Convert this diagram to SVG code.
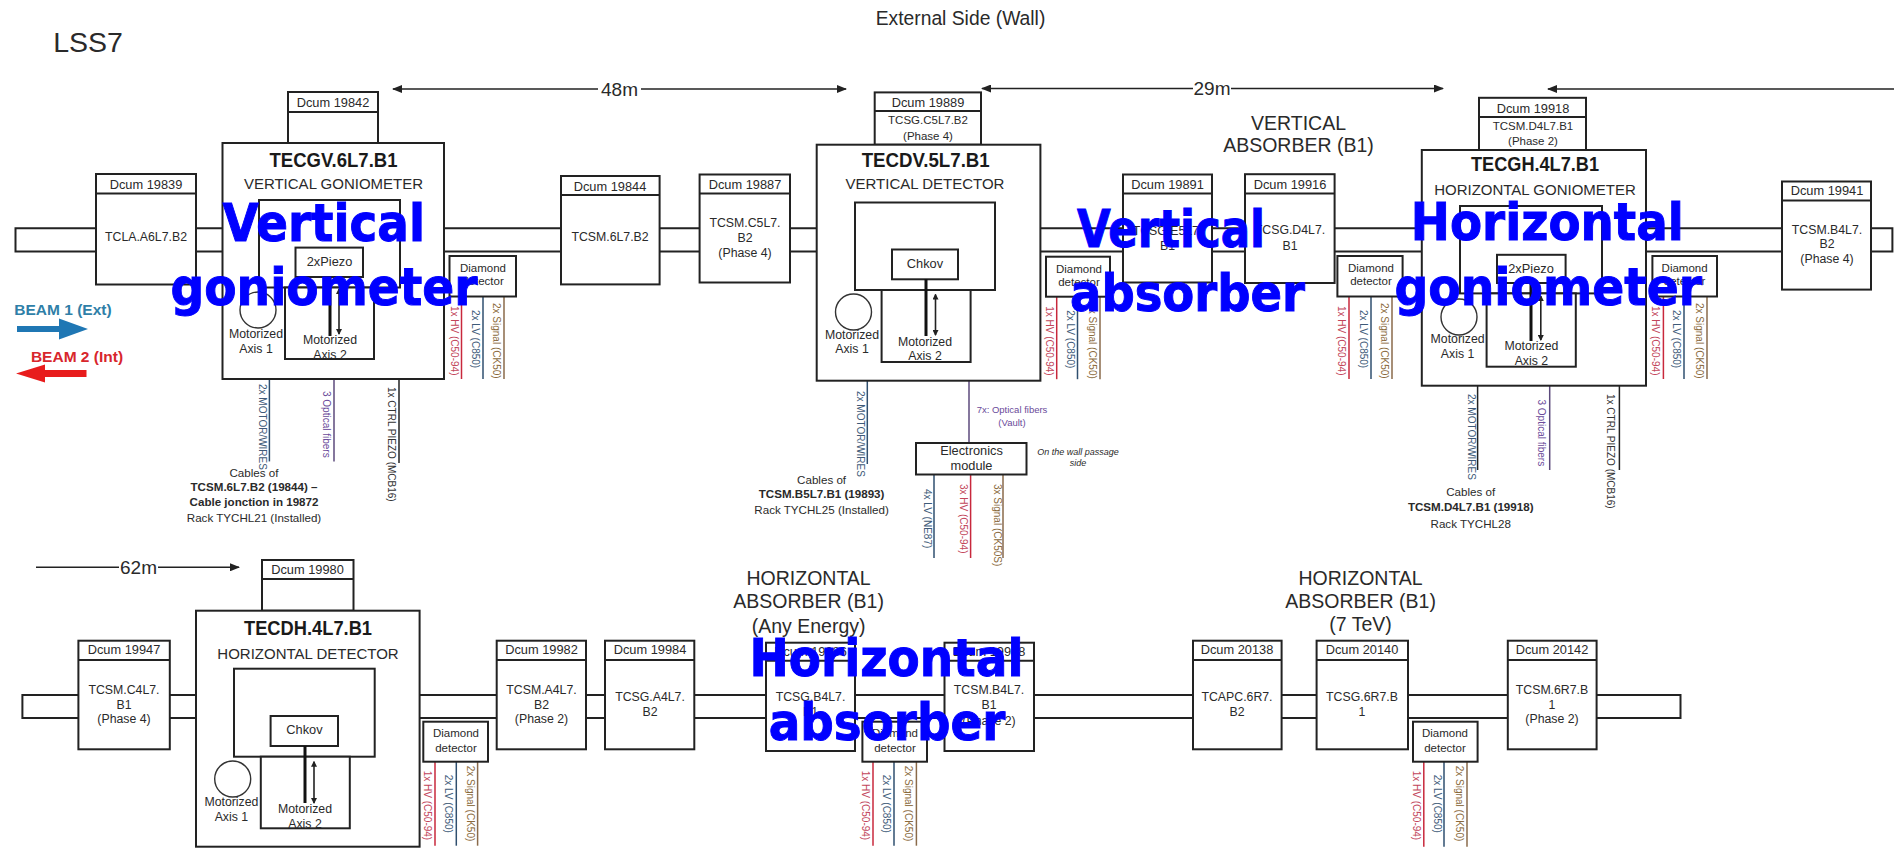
<svg xmlns="http://www.w3.org/2000/svg" width="1899" height="848" viewBox="0 0 1899 848">
<style>
text{font-family:"Liberation Sans",Arial,sans-serif;fill:#2a2a2a;text-anchor:middle}
.b{fill:#fff;stroke:#222;stroke-width:2}
.l{fill:none;stroke:#222;stroke-width:2}
.dim{fill:none;stroke:#222;stroke-width:1.6}
.dc{font-size:12.8px}
.lb{font-size:12.3px}
.dd{font-size:11.5px}
.mo{font-size:12.3px}
.ti{font-size:20px;font-weight:bold;fill:#1a1a1a}
.su{font-size:15px}
.h{font-size:19.5px}
.ca{font-size:11.6px}
.m{font-size:19px}
.v{font-size:10px;text-anchor:start}
.hv{fill:#c2455a}.lv{fill:#3e5a78}.sg{fill:#8a6a3c}.pu{fill:#6a4a9a}.bk{fill:#333}
.chv{stroke:#c8283c;stroke-width:1.5;fill:none}
.clv{stroke:#2f4f6f;stroke-width:1.5;fill:none}
.csg{stroke:#8a6a4a;stroke-width:1.5;fill:none}
.cpu{stroke:#5c4a7c;stroke-width:1.5;fill:none}
.cbk{stroke:#222;stroke-width:1.5;fill:none}
.big{font-family:"DejaVu Sans",Verdana,sans-serif;font-weight:bold;font-size:52px;fill:#0000ff;stroke:#0000ff;stroke-width:1}
</style>
<defs>
<marker id="ah" markerWidth="10" markerHeight="8" refX="9" refY="4" orient="auto-start-reverse" markerUnits="userSpaceOnUse"><path d="M0 0L10 4L0 8Z" fill="#222"/></marker>
<marker id="ta" markerWidth="6" markerHeight="6" refX="5" refY="3" orient="auto-start-reverse" markerUnits="userSpaceOnUse"><path d="M0 0L6 3L0 6Z" fill="#222"/></marker>
</defs>
<rect width="1899" height="848" fill="#fff"/>
<text x="88" y="51.6" style="font-size:28.5px" fill="#333">LSS7</text>
<text x="960.5" y="24.7" style="font-size:19.3px">External Side (Wall)</text>
<g id="connectors">
<path class="l" d="M1892.4 228.3H15.5V251.4H1892.4Z"/>
<path class="l" d="M1680.5 695H22.4V718H1680.5Z"/>
<path class="dim" marker-start="url(#ah)" d="M393 89H598"/><path class="dim" marker-end="url(#ah)" d="M641 89H846"/>
<path class="dim" marker-start="url(#ah)" d="M982 88.5H1193"/><path class="dim" marker-end="url(#ah)" d="M1231 88.5H1443"/>
<path class="dim" marker-start="url(#ah)" d="M1548 89H1894"/>
<path class="dim" d="M36 567.3H119"/><path class="dim" marker-end="url(#ah)" d="M158 567.3H239"/>
<g id="cables-d1" transform="translate(449.5 296.5)"><path class="chv" d="M12 0V82.5"/><path class="clv" d="M33.5 0V82.5"/><path class="csg" d="M54.5 0V82.5"/><text class="v hv" transform="translate(1.5 9.5) rotate(90)">1x HV (C50-94)</text><text class="v lv" transform="translate(22.5 13.5) rotate(90)">2x LV (C850)</text><text class="v sg" transform="translate(43.5 6.5) rotate(90)">2x Signal (CK50)</text></g>
<g id="cables-d2" transform="translate(1046 296.7)"><path class="chv" d="M10.7 0V82.5"/><path class="clv" d="M31.5 0V82.5"/><path class="csg" d="M54 0V82.5"/><text class="v hv" transform="translate(0 9.5) rotate(90)">1x HV (C50-94)</text><text class="v lv" transform="translate(20.5 13.5) rotate(90)">2x LV (C850)</text><text class="v sg" transform="translate(43 6.5) rotate(90)">2x Signal (CK50)</text></g>
<g id="cables-d3" transform="translate(1337.4 296.5)"><path class="chv" d="M11.6 0V82.5"/><path class="clv" d="M33.6 0V82.5"/><path class="csg" d="M54.6 0V82.5"/><text class="v hv" transform="translate(0.5 9.5) rotate(90)">1x HV (C50-94)</text><text class="v lv" transform="translate(22.5 13.5) rotate(90)">2x LV (C850)</text><text class="v sg" transform="translate(43.5 6.5) rotate(90)">2x Signal (CK50)</text></g>
<g id="cables-d4" transform="translate(1652.4 296.5)"><path class="chv" d="M11 0V82.5"/><path class="clv" d="M31.6 0V82.5"/><path class="csg" d="M54.6 0V82.5"/><text class="v hv" transform="translate(0 9.5) rotate(90)">1x HV (C50-94)</text><text class="v lv" transform="translate(20.5 13.5) rotate(90)">2x LV (C850)</text><text class="v sg" transform="translate(43.5 6.5) rotate(90)">2x Signal (CK50)</text></g>
<g id="cables-d5" transform="translate(423.3 761.7)"><path class="chv" d="M11.7 0V84"/><path class="clv" d="M33 0V84"/><path class="csg" d="M54.3 0V84"/><text class="v hv" transform="translate(0.5 9) rotate(90)">1x HV (C50-94)</text><text class="v lv" transform="translate(22 13) rotate(90)">2x LV (C850)</text><text class="v sg" transform="translate(43.5 4) rotate(90)">2x Signal (CK50)</text></g>
<g id="cables-d6" transform="translate(862.4 761.7)"><path class="chv" d="M10.6 0V84"/><path class="clv" d="M31.6 0V84"/><path class="csg" d="M54 0V84"/><text class="v hv" transform="translate(0 9) rotate(90)">1x HV (C50-94)</text><text class="v lv" transform="translate(20.5 13) rotate(90)">2x LV (C850)</text><text class="v sg" transform="translate(43 4) rotate(90)">2x Signal (CK50)</text></g>
<g id="cables-d7" transform="translate(1413 761.7)"><path class="chv" d="M10.8 0V85"/><path class="clv" d="M31 0V85"/><path class="csg" d="M54 0V85"/><text class="v hv" transform="translate(0 9) rotate(90)">1x HV (C50-94)</text><text class="v lv" transform="translate(20.5 13) rotate(90)">2x LV (C850)</text><text class="v sg" transform="translate(43 4) rotate(90)">2x Signal (CK50)</text></g>
<path class="clv" d="M269.4 379V461.4"/><text class="v lv" transform="translate(258.5 384) rotate(90)">2x MOTOR/WIRES</text>
<path class="cpu" d="M334 379V461.4"/><text class="v pu" transform="translate(323 391) rotate(90)">3 Optical fibers</text>
<path class="cbk" d="M399 379V463"/><text class="v bk" transform="translate(388 387) rotate(90)">1x CTRL PIEZO (MCB16)</text>
<path class="clv" d="M867.3 380.7V464"/><text class="v lv" transform="translate(857 391) rotate(90)">2x MOTOR/WIRES</text>
<path class="cpu" d="M969 380.7V443"/>
<path class="clv" d="M934 474.5V558"/><text class="v lv" transform="translate(924 489) rotate(90)">4x LV (NE87)</text>
<path class="chv" d="M970.6 474.5V558"/><text class="v hv" transform="translate(960 484) rotate(90)">3x HV (C50-94)</text>
<path class="csg" d="M1003 474.5V558"/><text class="v sg" transform="translate(994 484) rotate(90)">3x Signal (CK50S)</text>
<path class="cbk" d="M1477.6 385.7V470"/><text class="v lv" transform="translate(1467.5 394) rotate(90)">2x MOTOR/WIRES</text>
<path class="cpu" d="M1549.7 385.7V470"/><text class="v pu" transform="translate(1538 399.5) rotate(90)">3 Optical fibers</text>
<path class="cbk" d="M1619.4 385.7V470"/><text class="v bk" transform="translate(1607 394) rotate(90)">1x CTRL PIEZO (MCB16)</text>
</g>
<text class="m" x="619.5" y="95.5">48m</text>
<text class="m" x="1212" y="94.5">29m</text>
<text class="m" x="138.5" y="574">62m</text>
<g id="beams">
<text x="63" y="315" style="font-size:15.5px;font-weight:bold;fill:#2f7fa8">BEAM 1 (Ext)</text>
<path d="M17 326H59V318.5L88 329L59 339.5V332H17Z" fill="#1f77b4"/>
<text x="77" y="361.5" style="font-size:15.5px;font-weight:bold;fill:#d8262c">BEAM 2 (Int)</text>
<path d="M86.5 370H45V364.5L16 373.5L45 382.5V377H86.5Z" fill="#e81c1c"/>
</g>
<g id="dcum-19839"><rect class="b" x="96" y="174" width="100" height="110.5"/><path class="l" d="M96 193.5H196"/><text class="dc" x="146" y="189">Dcum 19839</text><text class="lb" x="146" y="241">TCLA.A6L7.B2</text></g>
<g id="tecgv"><rect class="b" x="288" y="92" width="90" height="51"/><path class="l" d="M288 112H378"/><text class="dc" x="333" y="107">Dcum 19842</text>
<rect class="b" x="222.5" y="143" width="221.5" height="236"/>
<text class="ti" x="333.5" y="167" textLength="128" lengthAdjust="spacingAndGlyphs">TECGV.6L7.B1</text>
<text class="su" x="333.5" y="189.4">VERTICAL GONIOMETER</text>
<rect class="b" x="259" y="200" width="141" height="87.5"/>
<rect class="b" x="295.5" y="247.6" width="67.5" height="29.4"/><text class="dc" x="329.5" y="266">2xPiezo</text>
<rect class="b" x="285" y="287.5" width="89" height="71.5"/>
<path d="M330 277V336" fill="none" stroke="#111" stroke-width="3"/>
<path class="dim" marker-start="url(#ta)" marker-end="url(#ta)" d="M339 289V334"/>
<circle cx="258" cy="310" r="18" fill="#fff" stroke="#333" stroke-width="1.4"/>
<text class="mo" x="256" y="337.5">Motorized</text><text class="mo" x="256" y="353">Axis 1</text>
<text class="mo" x="330" y="344">Motorized</text><text class="mo" x="330" y="359">Axis 2</text></g>
<g id="diamond-1"><rect class="b" x="449.5" y="256" width="66.5" height="40.5"/><text class="dd" x="483" y="272">Diamond</text><text class="dd" x="483" y="285">detector</text></g>
<g id="dcum-19844"><rect class="b" x="561" y="176" width="98.6" height="108.4"/><path class="l" d="M561 195H659.6"/><text class="dc" x="610" y="190.5">Dcum 19844</text><text class="lb" x="610" y="241">TCSM.6L7.B2</text></g>
<g id="dcum-19887"><rect class="b" x="699.6" y="174.5" width="90.4" height="108"/><path class="l" d="M699.6 193.5H790"/><text class="dc" x="745" y="188.5">Dcum 19887</text><text class="lb" x="745" y="227">TCSM.C5L7.</text><text class="lb" x="745" y="242">B2</text><text class="lb" x="745" y="257">(Phase 4)</text></g>
<g id="tecdv"><rect class="b" x="874.7" y="92.4" width="106.3" height="52.3"/><path class="l" d="M874.7 111H981"/><text class="dc" x="928" y="107">Dcum 19889</text><text class="dd" x="928" y="124">TCSG.C5L7.B2</text><text class="dd" x="928" y="140">(Phase 4)</text>
<rect class="b" x="816.7" y="144.7" width="223.7" height="236"/>
<text class="ti" x="925.7" y="166.5" textLength="128" lengthAdjust="spacingAndGlyphs">TECDV.5L7.B1</text>
<text class="su" x="925" y="189">VERTICAL DETECTOR</text>
<rect class="b" x="855" y="202.5" width="140" height="87.5"/>
<rect class="b" x="892" y="249.5" width="66" height="29.8"/><text class="dc" x="925" y="268">Chkov</text>
<rect class="b" x="881.6" y="290" width="89" height="72"/>
<path d="M926 279V336" fill="none" stroke="#111" stroke-width="3"/>
<path class="dim" marker-start="url(#ta)" marker-end="url(#ta)" d="M935.5 294.5V335"/>
<circle cx="853.5" cy="312" r="18" fill="#fff" stroke="#333" stroke-width="1.4"/>
<text class="mo" x="852" y="339">Motorized</text><text class="mo" x="852" y="353">Axis 1</text>
<text class="mo" x="925" y="346">Motorized</text><text class="mo" x="925" y="360">Axis 2</text></g>
<g id="diamond-2"><rect class="b" x="1046" y="256.7" width="64" height="40"/><text class="dd" x="1079" y="272.7">Diamond</text><text class="dd" x="1079" y="285.5">detector</text></g>
<g id="electronics"><rect class="b" x="916" y="443" width="110.5" height="31.5"/><text class="dc" x="971.5" y="455">Electronics</text><text class="dc" x="971.5" y="470">module</text></g>
<text class="pu" x="1012" y="412.7" style="font-size:9.5px">7x: Optical fibers</text><text class="pu" x="1012" y="425.5" style="font-size:9.5px">(Vault)</text>
<text x="1078" y="454.5" style="font-size:9px;font-style:italic">On the wall passage</text><text x="1078" y="466" style="font-size:9px;font-style:italic">side</text>
<text class="h" x="1298.5" y="130">VERTICAL</text><text class="h" x="1298.5" y="152">ABSORBER (B1)</text>
<g id="dcum-19891"><rect class="b" x="1123" y="174.5" width="89" height="108"/><path class="l" d="M1123 193.5H1212"/><text class="dc" x="1167.5" y="188.5">Dcum 19891</text><text class="lb" x="1167.5" y="234.5">TCSG.E5L7.</text><text class="lb" x="1167.5" y="250">B1</text></g>
<g id="dcum-19916"><rect class="b" x="1245" y="174.2" width="89.6" height="108.8"/><path class="l" d="M1245 193.5H1334.6"/><text class="dc" x="1290" y="188.5">Dcum 19916</text><text class="lb" x="1290" y="234">TCSG.D4L7.</text><text class="lb" x="1290" y="250">B1</text></g>
<g id="diamond-3"><rect class="b" x="1337.4" y="256" width="65.2" height="40.5"/><text class="dd" x="1371" y="272">Diamond</text><text class="dd" x="1371" y="285">detector</text></g>
<g id="tecgh"><rect class="b" x="1479" y="97.8" width="107" height="52.2"/><path class="l" d="M1479 117H1586"/><text class="dc" x="1533" y="112.6">Dcum 19918</text><text class="dd" x="1533" y="130">TCSM.D4L7.B1</text><text class="dd" x="1533" y="145">(Phase 2)</text>
<rect class="b" x="1421.8" y="150" width="224.2" height="235.7"/>
<text class="ti" x="1535" y="170.5" textLength="128" lengthAdjust="spacingAndGlyphs">TECGH.4L7.B1</text>
<text class="su" x="1535" y="194.5">HORIZONTAL GONIOMETER</text>
<rect class="b" x="1460" y="206" width="142" height="87.4"/>
<rect class="b" x="1497" y="254.8" width="68.6" height="28.2"/><text class="dc" x="1531" y="272.7">2xPiezo</text>
<rect class="b" x="1486.6" y="293.4" width="89.2" height="73.3"/>
<path d="M1531 283V341" fill="none" stroke="#111" stroke-width="3"/>
<path class="dim" marker-start="url(#ta)" marker-end="url(#ta)" d="M1540.8 296V340"/>
<circle cx="1459" cy="317" r="18" fill="#fff" stroke="#333" stroke-width="1.4"/>
<text class="mo" x="1457.6" y="342.6">Motorized</text><text class="mo" x="1457.6" y="358">Axis 1</text>
<text class="mo" x="1531.4" y="349.5">Motorized</text><text class="mo" x="1531.4" y="365">Axis 2</text></g>
<g id="diamond-4"><rect class="b" x="1652.4" y="256" width="64.6" height="40.5"/><text class="dd" x="1684.6" y="272">Diamond</text><text class="dd" x="1684.6" y="285">detector</text></g>
<g id="dcum-19941"><rect class="b" x="1782" y="181.5" width="89" height="108.1"/><path class="l" d="M1782 200.4H1871"/><text class="dc" x="1827" y="194.5">Dcum 19941</text><text class="lb" x="1827" y="234">TCSM.B4L7.</text><text class="lb" x="1827" y="248">B2</text><text class="lb" x="1827" y="263.4">(Phase 4)</text></g>
<text class="ca" x="254" y="477">Cables of</text><text class="ca" x="254" y="491" style="font-weight:bold">TCSM.6L7.B2 (19844) –</text><text class="ca" x="254" y="506" style="font-weight:bold">Cable jonction in 19872</text><text class="ca" x="254" y="522">Rack TYCHL21 (Installed)</text>
<text class="ca" x="821.6" y="483.6">Cables of</text><text class="ca" x="821.6" y="498" style="font-weight:bold">TCSM.B5L7.B1 (19893)</text><text class="ca" x="821.6" y="513.5">Rack TYCHL25 (Installed)</text>
<text class="ca" x="1470.7" y="496">Cables of</text><text class="ca" x="1470.7" y="511" style="font-weight:bold">TCSM.D4L7.B1 (19918)</text><text class="ca" x="1470.7" y="527.5">Rack TYCHL28</text>
<g id="dcum-19947"><rect class="b" x="78.4" y="640.7" width="91.4" height="108.6"/><path class="l" d="M78.4 660H169.8"/><text class="dc" x="124" y="654">Dcum 19947</text><text class="lb" x="124" y="694">TCSM.C4L7.</text><text class="lb" x="124" y="709">B1</text><text class="lb" x="124" y="723">(Phase 4)</text></g>
<g id="tecdh"><rect class="b" x="262" y="560" width="91.5" height="50.7"/><path class="l" d="M262 579H353.5"/><text class="dc" x="307.5" y="574">Dcum 19980</text>
<rect class="b" x="196" y="610.7" width="223.6" height="236"/>
<text class="ti" x="308" y="635" textLength="128" lengthAdjust="spacingAndGlyphs">TECDH.4L7.B1</text>
<text class="su" x="308" y="659">HORIZONTAL DETECTOR</text>
<rect class="b" x="234" y="668.7" width="140.7" height="88"/>
<rect class="b" x="270.6" y="716" width="67.4" height="30"/><text class="dc" x="304.5" y="734">Chkov</text>
<rect class="b" x="260.8" y="756.7" width="89" height="71.6"/>
<path d="M305 746V803" fill="none" stroke="#111" stroke-width="3"/>
<path class="dim" marker-start="url(#ta)" marker-end="url(#ta)" d="M314 761.7V803"/>
<circle cx="232.7" cy="779" r="18" fill="#fff" stroke="#333" stroke-width="1.4"/>
<text class="mo" x="231.4" y="806">Motorized</text><text class="mo" x="231.4" y="821">Axis 1</text>
<text class="mo" x="305" y="812.7">Motorized</text><text class="mo" x="305" y="827.7">Axis 2</text></g>
<g id="diamond-5"><rect class="b" x="423.3" y="721.7" width="64.7" height="40"/><text class="dd" x="456" y="737">Diamond</text><text class="dd" x="456" y="751.7">detector</text></g>
<g id="dcum-19982"><rect class="b" x="496.7" y="640.7" width="89.3" height="108.6"/><path class="l" d="M496.7 660H586"/><text class="dc" x="541.5" y="654">Dcum 19982</text><text class="lb" x="541.5" y="694">TCSM.A4L7.</text><text class="lb" x="541.5" y="709">B2</text><text class="lb" x="541.5" y="723">(Phase 2)</text></g>
<g id="dcum-19984"><rect class="b" x="605" y="640.7" width="89.3" height="108.6"/><path class="l" d="M605 660H694.3"/><text class="dc" x="650" y="654">Dcum 19984</text><text class="lb" x="650" y="700.7">TCSG.A4L7.</text><text class="lb" x="650" y="716">B2</text></g>
<text class="h" x="808.6" y="585">HORIZONTAL</text><text class="h" x="808.6" y="607.7">ABSORBER (B1)</text><text class="h" x="808.6" y="632.7">(Any Energy)</text>
<g id="dcum-19986"><rect class="b" x="766" y="642.7" width="89" height="108.3"/><path class="l" d="M766 660.7H855"/><text class="dc" x="810.5" y="655.5">Dcum 19986</text><text class="lb" x="810.5" y="700.7">TCSG.B4L7.</text><text class="lb" x="810.5" y="716">B1</text></g>
<g id="dcum-19988"><rect class="b" x="944.5" y="642.7" width="89.5" height="108.3"/><path class="l" d="M944.5 660.7H1034"/><text class="dc" x="989" y="655.5">Dcum 19988</text><text class="lb" x="989" y="694">TCSM.B4L7.</text><text class="lb" x="989" y="709">B1</text><text class="lb" x="989" y="725">(Phase 2)</text></g>
<g id="diamond-6"><rect class="b" x="862.4" y="721.7" width="64.6" height="40"/><text class="dd" x="895" y="737">Diamond</text><text class="dd" x="895" y="751.7">detector</text></g>
<g id="dcum-20138"><rect class="b" x="1193" y="640.7" width="88.6" height="108.6"/><path class="l" d="M1193 660H1281.6"/><text class="dc" x="1237" y="654">Dcum 20138</text><text class="lb" x="1237" y="700.7">TCAPC.6R7.</text><text class="lb" x="1237" y="716">B2</text></g>
<text class="h" x="1360.6" y="585">HORIZONTAL</text><text class="h" x="1360.6" y="607.7">ABSORBER (B1)</text><text class="h" x="1360.6" y="630.7">(7 TeV)</text>
<g id="dcum-20140"><rect class="b" x="1316.6" y="640.7" width="91.4" height="108.6"/><path class="l" d="M1316.6 660H1408"/><text class="dc" x="1362" y="654">Dcum 20140</text><text class="lb" x="1362" y="700.7">TCSG.6R7.B</text><text class="lb" x="1362" y="716">1</text></g>
<g id="diamond-7"><rect class="b" x="1413" y="721.7" width="64.6" height="40"/><text class="dd" x="1445" y="737">Diamond</text><text class="dd" x="1445" y="751.7">detector</text></g>
<g id="dcum-20142"><rect class="b" x="1507.8" y="640.7" width="88.8" height="108.6"/><path class="l" d="M1507.8 660H1596.6"/><text class="dc" x="1552" y="654">Dcum 20142</text><text class="lb" x="1552" y="694">TCSM.6R7.B</text><text class="lb" x="1552" y="709">1</text><text class="lb" x="1552" y="723">(Phase 2)</text></g>
<g id="overlay-labels">
<text class="big" x="323.7" y="241" textLength="202.5" lengthAdjust="spacingAndGlyphs">Vertical</text>
<text class="big" x="324" y="304.8" textLength="307" lengthAdjust="spacingAndGlyphs">goniometer</text>
<text class="big" x="1171" y="246.5" textLength="188" lengthAdjust="spacingAndGlyphs">Vertical</text>
<text class="big" x="1187.5" y="311" textLength="235" lengthAdjust="spacingAndGlyphs">absorber</text>
<text class="big" x="1547.3" y="240.4" textLength="273" lengthAdjust="spacingAndGlyphs">Horizontal</text>
<text class="big" x="1548.3" y="304.8" textLength="307.5" lengthAdjust="spacingAndGlyphs">goniometer</text>
<text class="big" x="886.5" y="675.7" textLength="274" lengthAdjust="spacingAndGlyphs">Horizontal</text>
<text class="big" x="887" y="740" textLength="236.7" lengthAdjust="spacingAndGlyphs">absorber</text>
</g>
</svg>
